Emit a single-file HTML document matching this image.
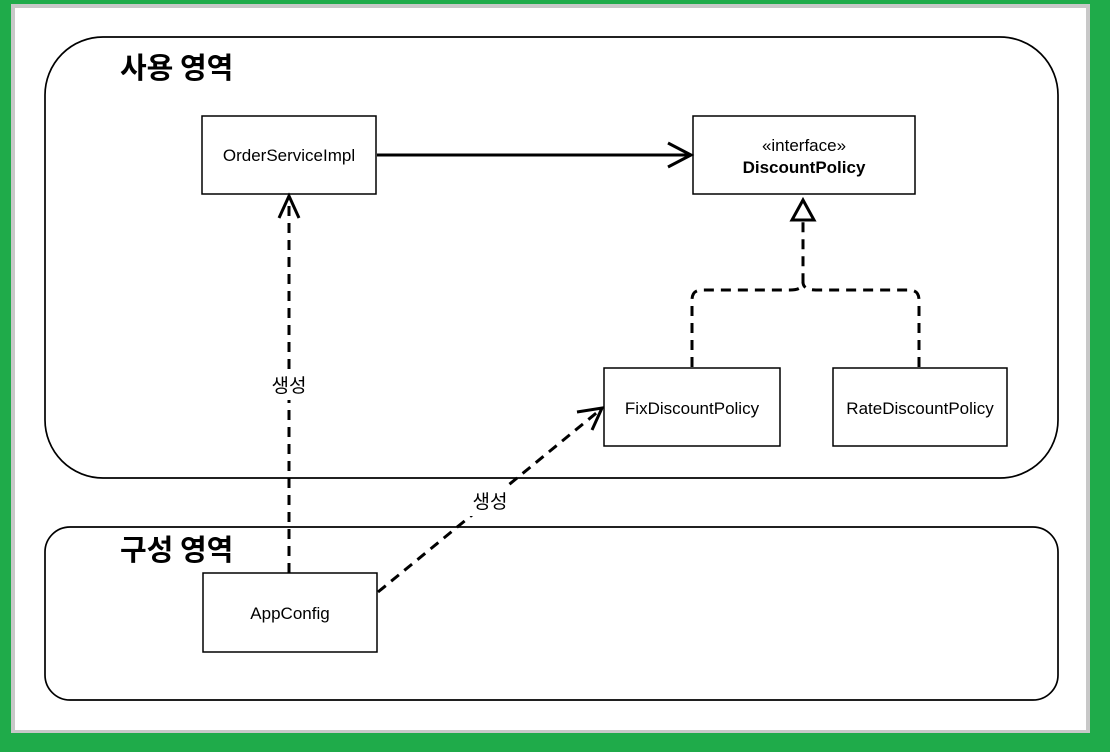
<!DOCTYPE html>
<html><head><meta charset="utf-8"><style>
html,body{margin:0;padding:0;background:#1fab4a;}
body{width:1110px;height:752px;overflow:hidden;position:relative;}
</style></head><body>
<svg width="1110" height="752" style="position:absolute;left:0;top:0" font-family="'Liberation Sans','Noto Sans CJK KR',sans-serif">
<rect x="11" y="4" width="1079" height="729" fill="#c8c8c8"/>
<rect x="15" y="8" width="1071" height="722" fill="#fff"/>
<rect x="45" y="37" width="1013" height="441" rx="58" ry="58" fill="none" stroke="#000" stroke-width="1.7"/>
<rect x="45" y="527" width="1013" height="173" rx="25" ry="25" fill="none" stroke="#000" stroke-width="1.7"/>
<text x="120" y="78" font-size="29" font-weight="bold" font-family="'Noto Sans CJK KR',sans-serif">사용 영역</text>
<text x="120" y="560" font-size="29" font-weight="bold" font-family="'Noto Sans CJK KR',sans-serif">구성 영역</text>
<g fill="#fff" stroke="#000" stroke-width="1.5">
<rect x="202" y="116" width="174" height="78"/>
<rect x="693" y="116" width="222" height="78"/>
<rect x="604" y="368" width="176" height="78"/>
<rect x="833" y="368" width="174" height="78"/>
<rect x="203" y="573" width="174" height="79"/>
</g>
<g font-size="17" text-anchor="middle">
<text x="289" y="161">OrderServiceImpl</text>
<text x="804" y="151">«interface»</text>
<text x="804" y="173" font-weight="bold">DiscountPolicy</text>
<text x="692" y="414">FixDiscountPolicy</text>
<text x="920" y="414">RateDiscountPolicy</text>
<text x="290" y="619">AppConfig</text>
</g>
<g fill="none" stroke="#000" stroke-width="3">
<line x1="377" y1="155" x2="690" y2="155"/>
<polyline points="668,143 691,155 668,167"/>
<line x1="289" y1="573" x2="289" y2="200" stroke-dasharray="10,7"/>
<polyline points="279,218 289,196 299,218"/>
<line x1="378" y1="592" x2="600" y2="410" stroke-dasharray="10,7"/>
<polyline points="577,412 602,408 592,430"/>
<path d="M692,367 V300 Q692,290 702,290 H790 Q803,290 803,282 V222" stroke-dasharray="10,7"/>
<path d="M919,367 V300 Q919,290 909,290 H816 Q803,290 803,282"  stroke-dasharray="10,7"/>
<polygon points="803,200 792,220 814,220" fill="#fff"/>
</g>
<rect x="268" y="370" width="42" height="30" fill="#fff"/>
<rect x="469" y="486" width="42" height="30" fill="#fff"/>
<g font-size="19" text-anchor="middle" font-family="'Noto Sans CJK KR',sans-serif">
<text x="289" y="392">생성</text>
<text x="490" y="508">생성</text>
</g>
</svg>
</body></html>
